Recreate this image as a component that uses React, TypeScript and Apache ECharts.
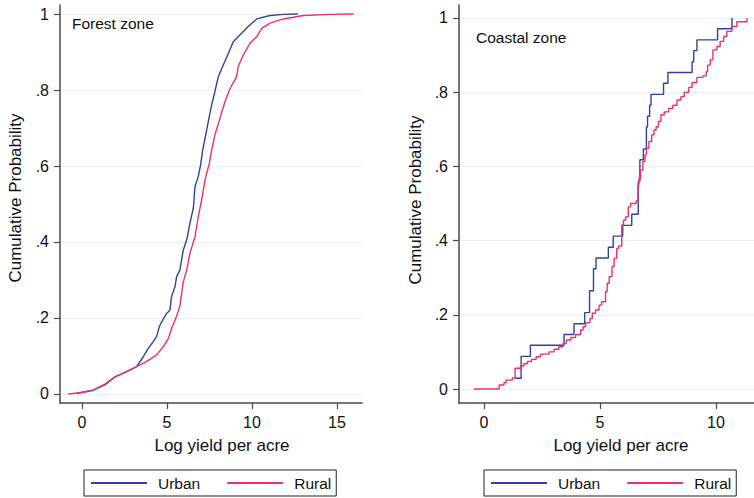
import React, { useEffect, useRef } from "react";
import * as echarts from "echarts";

// ---- Data ----
// Forest zone: cumulative probability points [log yield, probability]
const forestUrban: [number, number][] = [
  [-0.3, 0.002], [0.66, 0.01], [1.35, 0.024], [1.94, 0.045], [2.63, 0.059], [3.22, 0.072],
  [3.61, 0.098], [3.9, 0.12], [4.19, 0.138], [4.39, 0.151], [4.55, 0.177], [4.69, 0.19],
  [4.98, 0.212], [5.18, 0.221], [5.24, 0.247], [5.27, 0.256], [5.47, 0.282], [5.57, 0.309],
  [5.76, 0.326], [5.96, 0.379], [6.16, 0.405], [6.35, 0.449], [6.55, 0.489], [6.65, 0.546],
  [6.84, 0.572], [6.98, 0.603], [7.1, 0.642], [7.24, 0.673], [7.43, 0.717], [7.63, 0.761],
  [7.82, 0.796], [8.02, 0.835], [8.31, 0.866], [8.61, 0.896], [8.9, 0.927], [9.29, 0.945],
  [9.78, 0.967], [10.28, 0.987], [11.06, 0.996], [11.84, 0.999], [12.69, 1.0],
];
const forestRural: [number, number][] = [
  [-0.8, 0.0], [0.0, 0.004], [0.66, 0.01], [1.35, 0.026], [1.94, 0.045], [2.63, 0.059],
  [3.22, 0.072], [3.8, 0.085], [4.39, 0.103], [4.78, 0.124], [5.08, 0.146], [5.28, 0.173],
  [5.57, 0.205], [5.76, 0.232], [5.96, 0.295], [6.16, 0.326], [6.35, 0.37], [6.65, 0.414],
  [6.84, 0.467], [7.04, 0.511], [7.24, 0.563], [7.49, 0.607], [7.6, 0.635], [7.82, 0.682],
  [8.12, 0.726], [8.41, 0.769], [8.71, 0.804], [9.1, 0.835], [9.19, 0.862], [9.49, 0.892],
  [9.88, 0.923], [10.28, 0.94], [10.57, 0.962], [11.06, 0.976], [11.84, 0.987], [13.02, 0.996],
  [14.59, 0.999], [15.96, 1.0],
];
// Coastal zone
const coastalUrban: [number, number][] = [
  [1.34, 0.029], [1.6, 0.088], [2.0, 0.118], [3.45, 0.147], [3.88, 0.176], [4.34, 0.206],
  [4.55, 0.265], [4.72, 0.324], [4.83, 0.353], [5.36, 0.382], [5.57, 0.412], [5.98, 0.441],
  [6.37, 0.471], [6.65, 0.559], [6.72, 0.618], [6.87, 0.647], [7.0, 0.706], [7.05, 0.735],
  [7.14, 0.765], [7.2, 0.794], [7.74, 0.824], [7.93, 0.853], [8.97, 0.882], [9.04, 0.912],
  [9.18, 0.941], [10.07, 0.971], [10.69, 1.0],
];
const coastalRural: [number, number][] = [
  [-0.44, 0.0], [0.65, 0.011], [0.86, 0.017], [0.95, 0.024], [1.22, 0.03], [1.34, 0.056],
  [1.58, 0.062], [1.72, 0.068], [1.87, 0.074], [2.05, 0.08], [2.25, 0.087], [2.44, 0.094],
  [2.8, 0.1], [3.02, 0.107], [3.23, 0.114], [3.41, 0.123], [3.55, 0.132], [3.74, 0.139],
  [3.95, 0.147], [4.17, 0.159], [4.27, 0.168], [4.38, 0.179], [4.57, 0.19], [4.67, 0.204],
  [4.81, 0.213], [4.96, 0.226], [5.07, 0.235], [5.24, 0.262], [5.31, 0.285], [5.4, 0.303],
  [5.52, 0.33], [5.61, 0.352], [5.72, 0.379], [5.8, 0.385], [5.94, 0.442], [6.01, 0.455],
  [6.11, 0.464], [6.22, 0.491], [6.32, 0.5], [6.56, 0.507], [6.64, 0.55], [6.68, 0.568],
  [6.75, 0.59], [6.85, 0.613], [6.94, 0.631], [7.0, 0.649], [7.11, 0.667], [7.23, 0.685],
  [7.33, 0.698], [7.42, 0.707], [7.52, 0.721], [7.63, 0.739], [7.77, 0.747], [7.96, 0.756],
  [8.14, 0.765], [8.32, 0.779], [8.49, 0.788], [8.63, 0.799], [8.82, 0.813], [8.97, 0.826],
  [9.18, 0.84], [9.44, 0.844], [9.58, 0.855], [9.64, 0.873], [9.75, 0.887], [9.87, 0.914],
  [10.04, 0.923], [10.18, 0.937], [10.33, 0.95], [10.47, 0.964], [10.69, 0.977], [10.9, 0.99],
  [11.34, 1.0],
];

const yTickValues = [0, 0.2, 0.4, 0.6, 0.8, 1];
const yTickLabels = ["0", ".2", ".4", ".6", ".8", "1"];
const forestXTicks = [0, 5, 10, 15];
const coastalXTicks = [0, 5, 10];
const panelTitles = ["Forest zone", "Coastal zone"];
const seriesNames = ["Urban", "Rural"];
const axisTitleX = "Log yield per acre";
const axisTitleY = "Cumulative Probability";

const BLUE = "#3041a3";
const PINK = "#ec2f6f";
const FONT = "'Liberation Sans', Arial, Helvetica, sans-serif";
const AXIS = "#4a4a4a";
const GRID = "#e8f0f2";

export default function App() {
  const ref = useRef<HTMLDivElement>(null);
  useEffect(() => {
    document.body.style.margin = "0";
    if (!ref.current) return;
    const chart = echarts.init(ref.current, null, { renderer: "svg" });

    const yLabel = (v: number) => {
      const i = yTickValues.findIndex((t) => Math.abs(t - v) < 1e-6);
      return i >= 0 ? yTickLabels[i] : "";
    };

    const mkX = (gridIndex: number, min: number, max: number, ticks: number[]) => ({
      type: "value",
      gridIndex,
      min,
      max,
      axisLine: { show: true, onZero: false, lineStyle: { color: AXIS, width: 1.5 } },
      axisTick: { show: true, length: 6, customValues: ticks, lineStyle: { color: AXIS, width: 1.2 } },
      axisLabel: { customValues: ticks, margin: 11, color: "#111", fontSize: 16, fontFamily: FONT },
      splitLine: { show: false },
    });
    const mkY = (gridIndex: number, min: number, max: number) => ({
      type: "value",
      gridIndex,
      min,
      max,
      axisLine: { show: true, onZero: false, lineStyle: { color: AXIS, width: 1.5 } },
      axisTick: { show: true, length: 6, customValues: yTickValues, lineStyle: { color: AXIS, width: 1.2 } },
      axisLabel: {
        customValues: yTickValues,
        margin: 11,
        color: "#111",
        fontSize: 16,
        fontFamily: FONT,
        formatter: (v: number) => yLabel(v),
      },
      splitLine: { show: true, lineStyle: { color: GRID, width: 1 } },
    });

    const lineSeries = (name: string, data: [number, number][], idx: number, color: string, step: boolean) => ({
      name,
      type: "line",
      xAxisIndex: idx,
      yAxisIndex: idx,
      data,
      step: step ? "end" : false,
      symbol: "none",
      showSymbol: false,
      lineStyle: { color, width: 1.4 },
      itemStyle: { color },
      z: name === "Rural" ? 3 : 2,
    });

    const legendBase = {
      data: seriesNames,
      orient: "horizontal",
      icon: "rect",
      itemWidth: 56,
      itemHeight: 2,
      itemGap: 27,
      borderColor: "#222",
      borderWidth: 1,
      padding: [5, 5, 5, 7],
      textStyle: { fontSize: 15.5, fontFamily: FONT, color: "#111", padding: [0, 0, 0, 6] },
      selectedMode: false,
    };

    chart.setOption({
      animation: false,
      backgroundColor: "#ffffff",
      grid: [
        { left: 60, top: 5, width: 302, height: 398, containLabel: false },
        { left: 459, top: 5, width: 295, height: 398, containLabel: false },
      ],
      xAxis: [mkX(0, -1.29, 16.47, forestXTicks), mkX(1, -1.078, 11.64, coastalXTicks)],
      yAxis: [mkY(0, -0.0237, 1.0237), mkY(1, -0.0377, 1.035)],
      legend: [
        { ...legendBase, left: 84, top: 470 },
        { ...legendBase, left: 484, top: 470 },
      ],
      series: [
        lineSeries(seriesNames[0], forestUrban, 0, BLUE, false),
        lineSeries(seriesNames[1], forestRural, 0, PINK, false),
        lineSeries(seriesNames[0], coastalUrban, 1, BLUE, true),
        lineSeries(seriesNames[1], coastalRural, 1, PINK, true),
      ],
      graphic: [
        { type: "text", x: 72, y: 23, style: { text: panelTitles[0], font: `15.5px ${FONT}`, fill: "#111", verticalAlign: "middle" } },
        { type: "text", x: 476, y: 37, style: { text: panelTitles[1], font: `15.5px ${FONT}`, fill: "#111", verticalAlign: "middle" } },
        { type: "text", x: 222, y: 445, style: { text: axisTitleX, font: `17px ${FONT}`, fill: "#111", align: "center", verticalAlign: "middle" } },
        { type: "text", x: 621, y: 445, style: { text: axisTitleX, font: `17px ${FONT}`, fill: "#111", align: "center", verticalAlign: "middle" } },
        { type: "text", x: 15, y: 198, rotation: Math.PI / 2, style: { text: axisTitleY, font: `17px ${FONT}`, fill: "#111", align: "center", verticalAlign: "middle" } },
        { type: "text", x: 415, y: 200, rotation: Math.PI / 2, style: { text: axisTitleY, font: `17px ${FONT}`, fill: "#111", align: "center", verticalAlign: "middle" } },
      ],
    });
    return () => chart.dispose();
  }, []);
  return <div ref={ref} style={{ position: "absolute", left: 0, top: 0, width: 754, height: 498 }} />;
}
